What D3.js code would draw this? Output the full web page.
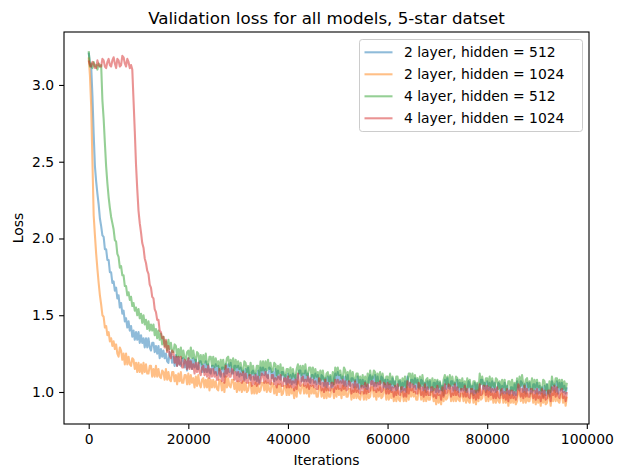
<!DOCTYPE html>
<html>
<head>
<meta charset="utf-8">
<script src="https://cdn.jsdelivr.net/npm/d3@7"></script>
<style>
  body { margin: 0; background: #fff; }
  svg { font-family: "DejaVu Sans", sans-serif; }
</style>
</head>
<body>
<svg id="chart" width="617" height="467"></svg>
<script>
// validation evaluated every 250 iterations, one row = 5000 iterations
var iterations = d3.range(0, 96001, 250);

var loss2x512 = [
  3.21, 3.14, 3.12, 2.93, 2.68, 2.47, 2.37, 2.29, 2.22, 2.13, 2.08, 2.02, 2.01, 1.93, 1.93, 1.86, 1.86, 1.78, 1.78, 1.71,
  1.72, 1.66, 1.68, 1.61, 1.63, 1.55, 1.58, 1.51, 1.53, 1.46, 1.48, 1.42, 1.46, 1.40, 1.43, 1.36, 1.40, 1.34, 1.39, 1.34,
  1.39, 1.32, 1.37, 1.32, 1.35, 1.29, 1.35, 1.29, 1.35, 1.29, 1.27, 1.32, 1.32, 1.26, 1.30, 1.25, 1.30, 1.22, 1.28, 1.23,
  1.27, 1.22, 1.25, 1.20, 1.19, 1.26, 1.25, 1.19, 1.23, 1.17, 1.24, 1.17, 1.23, 1.18, 1.17, 1.22, 1.22, 1.16, 1.20, 1.14,
  1.22, 1.16, 1.21, 1.15, 1.22, 1.16, 1.21, 1.15, 1.15, 1.20, 1.20, 1.13, 1.18, 1.13, 1.20, 1.13, 1.18, 1.13, 1.12, 1.17,
  1.17, 1.12, 1.18, 1.11, 1.17, 1.12, 1.10, 1.16, 1.16, 1.10, 1.18, 1.12, 1.18, 1.13, 1.19, 1.12, 1.12, 1.17, 1.17, 1.11,
  1.17, 1.10, 1.16, 1.11, 1.14, 1.08, 1.15, 1.09, 1.16, 1.10, 1.08, 1.13, 1.14, 1.08, 1.12, 1.07, 1.14, 1.06, 1.16, 1.11,
  1.16, 1.11, 1.15, 1.10, 1.09, 1.16, 1.15, 1.09, 1.13, 1.07, 1.15, 1.08, 1.14, 1.09, 1.08, 1.13, 1.13, 1.07, 1.11, 1.05,
  1.12, 1.06, 1.11, 1.05, 1.12, 1.06, 1.11, 1.05, 1.09, 1.14, 1.14, 1.07, 1.12, 1.07, 1.14, 1.07, 1.12, 1.07, 1.06, 1.11,
  1.11, 1.06, 1.12, 1.05, 1.11, 1.06, 1.05, 1.11, 1.10, 1.04, 1.09, 1.03, 1.10, 1.05, 1.10, 1.03, 1.04, 1.09, 1.12, 1.06,
  1.13, 1.06, 1.11, 1.06, 1.10, 1.04, 1.10, 1.04, 1.11, 1.05, 1.04, 1.09, 1.09, 1.03, 1.08, 1.03, 1.10, 1.02, 1.08, 1.03,
  1.08, 1.03, 1.07, 1.02, 1.02, 1.09, 1.11, 1.05, 1.10, 1.04, 1.11, 1.04, 1.10, 1.05, 1.05, 1.10, 1.09, 1.03, 1.08, 1.02,
  1.08, 1.02, 1.07, 1.01, 1.09, 1.03, 1.07, 1.01, 1.02, 1.07, 1.07, 1.00, 1.06, 1.01, 1.07, 1.00, 1.10, 1.05, 1.03, 1.08,
  1.08, 1.03, 1.09, 1.02, 1.08, 1.03, 1.02, 1.08, 1.07, 1.01, 1.06, 1.00, 1.07, 1.02, 1.07, 1.00, 1.01, 1.06, 1.06, 1.00,
  1.07, 1.00, 1.06, 1.01, 1.04, 0.98, 1.08, 1.02, 1.09, 1.03, 1.02, 1.07, 1.07, 1.01, 1.06, 1.01, 1.08, 1.00, 1.06, 1.01,
  1.06, 1.01, 1.05, 1.00, 1.00, 1.07, 1.05, 0.99, 1.04, 0.98, 1.06, 0.99, 1.05, 1.00, 1.03, 1.08, 1.08, 1.02, 1.06, 1.00,
  1.07, 1.01, 1.06, 1.00, 1.07, 1.01, 1.06, 1.00, 1.01, 1.06, 1.05, 0.98, 1.04, 0.99, 1.06, 0.99, 1.04, 0.99, 0.98, 1.03,
  1.03, 0.98, 1.05, 0.98, 1.07, 1.02, 1.01, 1.07, 1.06, 1.00, 1.05, 0.99, 1.06, 1.01, 1.06, 0.99, 1.00, 1.05, 1.05, 0.99,
  1.06, 0.99, 1.04, 0.99, 1.03, 0.97, 1.04, 0.98, 1.05, 0.99, 0.97, 1.02, 1.07, 1.01, 1.05, 1.00, 1.07, 0.99, 1.06, 1.01,
  1.06, 1.00, 1.04, 0.99, 1.03
];

var loss2x1024 = [
  3.18, 3.06, 2.86, 2.50, 2.15, 2.02, 1.90, 1.80, 1.71, 1.63, 1.57, 1.50, 1.49, 1.42, 1.43, 1.37, 1.39, 1.33, 1.35, 1.30,
  1.33, 1.28, 1.31, 1.25, 1.23, 1.29, 1.27, 1.21, 1.25, 1.18, 1.25, 1.18, 1.23, 1.18, 1.17, 1.22, 1.21, 1.15, 1.19, 1.13,
  1.19, 1.13, 1.18, 1.12, 1.19, 1.13, 1.18, 1.12, 1.12, 1.17, 1.17, 1.10, 1.15, 1.10, 1.17, 1.10, 1.15, 1.10, 1.09, 1.14,
  1.13, 1.08, 1.15, 1.08, 1.13, 1.08, 1.07, 1.13, 1.13, 1.07, 1.11, 1.05, 1.12, 1.07, 1.13, 1.06, 1.06, 1.11, 1.11, 1.05,
  1.12, 1.05, 1.11, 1.06, 1.09, 1.03, 1.10, 1.04, 1.11, 1.05, 1.03, 1.08, 1.09, 1.03, 1.08, 1.03, 1.09, 1.01, 1.08, 1.03,
  1.08, 1.03, 1.07, 1.02, 1.01, 1.08, 1.07, 1.01, 1.06, 1.00, 1.10, 1.03, 1.09, 1.04, 1.03, 1.08, 1.08, 1.02, 1.06, 1.00,
  1.07, 1.01, 1.06, 1.00, 1.07, 1.01, 1.06, 1.00, 1.01, 1.06, 1.06, 0.99, 1.04, 0.99, 1.06, 0.99, 1.05, 1.00, 1.01, 1.06,
  1.06, 1.01, 1.07, 1.00, 1.06, 1.01, 1.00, 1.06, 1.05, 0.99, 1.04, 0.98, 1.05, 1.00, 1.05, 0.98, 0.99, 1.04, 1.04, 0.98,
  1.05, 0.98, 1.04, 0.99, 1.02, 0.96, 1.03, 0.97, 1.07, 1.01, 0.99, 1.04, 1.05, 0.99, 1.04, 0.99, 1.05, 0.97, 1.04, 0.99,
  1.04, 0.99, 1.02, 0.97, 0.97, 1.04, 1.03, 0.97, 1.02, 0.96, 1.03, 0.96, 1.02, 0.97, 0.97, 1.02, 1.02, 0.96, 1.03, 0.97,
  1.04, 0.98, 1.02, 0.96, 1.04, 0.98, 1.03, 0.97, 0.97, 1.02, 1.02, 0.95, 1.01, 0.96, 1.03, 0.96, 1.01, 0.96, 0.95, 1.00,
  1.00, 0.95, 1.02, 0.95, 1.01, 0.96, 0.97, 1.03, 1.03, 0.97, 1.01, 0.95, 1.02, 0.97, 1.03, 0.96, 0.97, 1.02, 1.01, 0.95,
  1.02, 0.95, 1.01, 0.96, 1.00, 0.94, 1.00, 0.94, 1.01, 0.95, 0.94, 0.99, 1.00, 0.94, 0.99, 0.94, 1.03, 0.95, 1.02, 0.97,
  1.02, 0.97, 1.00, 0.95, 0.95, 1.02, 1.01, 0.95, 1.00, 0.94, 1.01, 0.94, 1.00, 0.95, 0.95, 1.00, 1.00, 0.94, 0.98, 0.92,
  0.99, 0.93, 0.98, 0.92, 1.00, 0.94, 1.01, 0.95, 0.96, 1.01, 1.01, 0.94, 0.99, 0.94, 1.01, 0.94, 1.00, 0.95, 0.94, 0.99,
  0.99, 0.94, 1.00, 0.93, 0.99, 0.94, 0.93, 0.99, 0.99, 0.93, 0.98, 0.92, 0.99, 0.94, 1.02, 0.95, 0.96, 1.01, 1.00, 0.94,
  1.01, 0.94, 1.00, 0.95, 0.99, 0.93, 0.99, 0.93, 1.00, 0.94, 0.93, 0.98, 0.99, 0.93, 0.98, 0.93, 0.99, 0.91, 0.98, 0.93,
  0.98, 0.93, 0.97, 0.92, 0.94, 1.01, 1.00, 0.94, 0.99, 0.93, 1.00, 0.93, 0.99, 0.94, 0.94, 0.99, 0.99, 0.93, 0.98, 0.92,
  0.99, 0.93, 0.97, 0.91, 0.99, 0.93, 0.98, 0.92, 0.93, 0.98, 0.98, 0.91, 0.99, 0.94, 1.01, 0.94, 0.99, 0.94, 0.93, 0.98,
  0.99, 0.93, 0.97, 0.91, 0.97
];

var loss4x512 = [
  3.22, 3.12, 3.14, 3.11, 3.15, 3.12, 3.13, 3.10, 3.14, 3.12, 3.13, 2.90, 2.78, 2.62, 2.47, 2.36, 2.27, 2.20, 2.14, 2.10,
  2.06, 1.99, 1.98, 1.90, 1.88, 1.81, 1.82, 1.76, 1.76, 1.69, 1.69, 1.63, 1.65, 1.60, 1.62, 1.56, 1.58, 1.53, 1.55, 1.50,
  1.54, 1.48, 1.51, 1.45, 1.50, 1.44, 1.47, 1.41, 1.46, 1.40, 1.44, 1.40, 1.44, 1.37, 1.41, 1.35, 1.40, 1.34, 1.38, 1.31,
  1.36, 1.30, 1.33, 1.27, 1.34, 1.28, 1.32, 1.26, 1.26, 1.31, 1.30, 1.23, 1.28, 1.23, 1.29, 1.22, 1.27, 1.22, 1.21, 1.26,
  1.27, 1.22, 1.29, 1.22, 1.27, 1.22, 1.20, 1.26, 1.25, 1.19, 1.24, 1.18, 1.24, 1.19, 1.25, 1.18, 1.18, 1.23, 1.23, 1.17,
  1.23, 1.16, 1.22, 1.17, 1.20, 1.14, 1.21, 1.15, 1.21, 1.15, 1.17, 1.22, 1.23, 1.17, 1.21, 1.16, 1.22, 1.14, 1.21, 1.16,
  1.20, 1.15, 1.19, 1.14, 1.13, 1.20, 1.19, 1.13, 1.17, 1.11, 1.19, 1.12, 1.17, 1.12, 1.12, 1.17, 1.17, 1.11, 1.20, 1.14,
  1.20, 1.14, 1.20, 1.14, 1.21, 1.15, 1.19, 1.13, 1.14, 1.19, 1.18, 1.11, 1.17, 1.12, 1.18, 1.11, 1.16, 1.11, 1.10, 1.15,
  1.15, 1.10, 1.16, 1.09, 1.15, 1.10, 1.09, 1.15, 1.18, 1.12, 1.17, 1.11, 1.17, 1.12, 1.18, 1.11, 1.11, 1.16, 1.16, 1.10,
  1.16, 1.09, 1.15, 1.10, 1.13, 1.07, 1.14, 1.08, 1.14, 1.08, 1.07, 1.12, 1.13, 1.07, 1.11, 1.06, 1.13, 1.05, 1.16, 1.11,
  1.16, 1.11, 1.14, 1.09, 1.09, 1.16, 1.14, 1.08, 1.13, 1.07, 1.14, 1.07, 1.13, 1.08, 1.07, 1.12, 1.12, 1.06, 1.10, 1.04,
  1.11, 1.05, 1.10, 1.04, 1.12, 1.06, 1.14, 1.08, 1.09, 1.14, 1.13, 1.06, 1.12, 1.07, 1.13, 1.06, 1.12, 1.07, 1.05, 1.10,
  1.10, 1.05, 1.12, 1.05, 1.10, 1.05, 1.04, 1.10, 1.10, 1.04, 1.08, 1.02, 1.09, 1.04, 1.10, 1.03, 1.07, 1.12, 1.12, 1.06,
  1.12, 1.05, 1.11, 1.06, 1.09, 1.03, 1.10, 1.04, 1.11, 1.05, 1.03, 1.08, 1.09, 1.03, 1.08, 1.03, 1.09, 1.01, 1.08, 1.03,
  1.08, 1.03, 1.07, 1.02, 1.01, 1.08, 1.11, 1.05, 1.10, 1.04, 1.11, 1.04, 1.10, 1.05, 1.05, 1.10, 1.09, 1.03, 1.08, 1.02,
  1.09, 1.03, 1.07, 1.01, 1.09, 1.03, 1.08, 1.02, 1.02, 1.07, 1.07, 1.00, 1.06, 1.01, 1.12, 1.05, 1.10, 1.05, 1.04, 1.09,
  1.09, 1.04, 1.10, 1.03, 1.09, 1.04, 1.03, 1.09, 1.08, 1.02, 1.07, 1.01, 1.08, 1.03, 1.08, 1.01, 1.02, 1.07, 1.07, 1.01,
  1.08, 1.01, 1.06, 1.01, 1.09, 1.03, 1.10, 1.04, 1.11, 1.05, 1.03, 1.08, 1.09, 1.03, 1.07, 1.02, 1.09, 1.01, 1.08, 1.03,
  1.08, 1.03, 1.06, 1.01, 1.01, 1.08, 1.07, 1.01, 1.05, 0.99, 1.07, 1.00, 1.10, 1.05, 1.04, 1.09, 1.09, 1.03, 1.08, 1.02,
  1.08, 1.02, 1.07, 1.01, 1.06
];

var loss4x1024 = [
  3.16, 3.13, 3.12, 3.15, 3.14, 3.11, 3.11, 3.16, 3.13, 3.12, 3.12, 3.17, 3.16, 3.12, 3.11, 3.15, 3.17, 3.13, 3.12, 3.16,
  3.18, 3.14, 3.11, 3.17, 3.16, 3.12, 3.13, 3.19, 3.18, 3.14, 3.12, 3.17, 3.15, 3.11, 3.13, 3.10, 2.90, 2.70, 2.48, 2.32,
  2.18, 2.10, 2.04, 1.97, 1.94, 1.87, 1.84, 1.79, 1.77, 1.70, 1.68, 1.62, 1.61, 1.54, 1.52, 1.47, 1.47, 1.40, 1.39, 1.35,
  1.36, 1.29, 1.34, 1.26, 1.30, 1.24, 1.22, 1.27, 1.26, 1.19, 1.23, 1.17, 1.23, 1.18, 1.23, 1.16, 1.16, 1.21, 1.20, 1.15,
  1.22, 1.15, 1.20, 1.15, 1.18, 1.12, 1.19, 1.13, 1.19, 1.13, 1.11, 1.16, 1.17, 1.11, 1.15, 1.10, 1.17, 1.09, 1.15, 1.10,
  1.15, 1.10, 1.13, 1.08, 1.08, 1.15, 1.13, 1.07, 1.12, 1.06, 1.17, 1.10, 1.15, 1.10, 1.10, 1.15, 1.14, 1.08, 1.13, 1.07,
  1.13, 1.07, 1.12, 1.06, 1.13, 1.07, 1.12, 1.06, 1.06, 1.11, 1.11, 1.04, 1.10, 1.05, 1.11, 1.04, 1.10, 1.05, 1.07, 1.12,
  1.11, 1.06, 1.13, 1.06, 1.11, 1.06, 1.05, 1.11, 1.11, 1.05, 1.09, 1.03, 1.10, 1.05, 1.11, 1.04, 1.04, 1.09, 1.09, 1.03,
  1.10, 1.03, 1.08, 1.03, 1.07, 1.01, 1.08, 1.02, 1.12, 1.06, 1.04, 1.09, 1.10, 1.04, 1.08, 1.03, 1.10, 1.02, 1.09, 1.04,
  1.08, 1.03, 1.07, 1.02, 1.02, 1.09, 1.07, 1.01, 1.06, 1.00, 1.08, 1.01, 1.06, 1.01, 1.01, 1.06, 1.06, 1.00, 1.08, 1.02,
  1.08, 1.02, 1.07, 1.01, 1.08, 1.02, 1.07, 1.01, 1.02, 1.07, 1.06, 0.99, 1.05, 1.00, 1.07, 1.00, 1.05, 1.00, 0.99, 1.04,
  1.04, 0.99, 1.06, 0.99, 1.05, 1.00, 1.01, 1.07, 1.07, 1.01, 1.06, 1.00, 1.06, 1.01, 1.07, 1.00, 1.01, 1.06, 1.05, 0.99,
  1.06, 0.99, 1.05, 1.00, 1.03, 0.97, 1.04, 0.98, 1.05, 0.99, 0.98, 1.03, 1.03, 0.97, 1.02, 0.97, 1.07, 0.99, 1.06, 1.01,
  1.05, 1.00, 1.04, 0.99, 0.99, 1.06, 1.04, 0.98, 1.03, 0.97, 1.05, 0.98, 1.03, 0.98, 0.98, 1.03, 1.03, 0.97, 1.02, 0.96,
  1.04, 0.98, 1.01, 0.95, 1.03, 0.97, 1.05, 0.99, 1.00, 1.05, 1.04, 0.97, 1.03, 0.98, 1.05, 0.98, 1.03, 0.98, 0.97, 1.02,
  1.02, 0.97, 1.04, 0.97, 1.02, 0.97, 0.96, 1.02, 1.02, 0.96, 1.01, 0.95, 1.01, 0.96, 1.05, 0.98, 0.99, 1.04, 1.04, 0.98,
  1.04, 0.97, 1.03, 0.98, 1.02, 0.96, 1.02, 0.96, 1.03, 0.97, 0.96, 1.01, 1.02, 0.96, 1.00, 0.95, 1.02, 0.94, 1.01, 0.96,
  1.01, 0.96, 1.00, 0.95, 0.98, 1.05, 1.03, 0.97, 1.02, 0.96, 1.04, 0.97, 1.02, 0.97, 0.97, 1.02, 1.02, 0.96, 1.01, 0.95,
  1.02, 0.96, 1.00, 0.94, 1.02, 0.96, 1.01, 0.95, 0.96, 1.01, 1.01, 0.94, 1.03, 0.98, 1.04, 0.97, 1.03, 0.98, 0.96, 1.01,
  1.02, 0.96, 1.00, 0.94, 1.00
];

var seriesNames = [
  "2 layer, hidden = 512",
  "2 layer, hidden = 1024",
  "4 layer, hidden = 512",
  "4 layer, hidden = 1024"
];
var seriesValues = [loss2x512, loss2x1024, loss4x512, loss4x1024];
var xTicks = [0, 20000, 40000, 60000, 80000, 100000];
var yTicks = [1.0, 1.5, 2.0, 2.5, 3.0];

var colors = ["#1f77b4", "#ff7f0e", "#2ca02c", "#d62728"];

(function() {
  var svg = d3.select("#chart");
  var left = 64, right = 589, plotTop = 32, plotBottom = 424;

  var x = d3.scaleLinear().domain([-4960, 100440]).range([left, right]);
  var y = d3.scaleLinear().domain([0.7915, 3.345]).range([plotBottom, plotTop]);

  var line = d3.line()
    .x(function(d, i) { return x(iterations[i]); })
    .y(function(d) { return y(d); });

  svg.append("defs").append("clipPath").attr("id", "plotClip")
    .append("rect")
    .attr("x", left).attr("y", plotTop)
    .attr("width", right - left).attr("height", plotBottom - plotTop);

  var plot = svg.append("g").attr("clip-path", "url(#plotClip)");
  seriesValues.forEach(function(vals, k) {
    plot.append("path")
      .datum(vals)
      .attr("d", line)
      .attr("fill", "none")
      .attr("stroke", colors[k])
      .attr("stroke-opacity", 0.5)
      .attr("stroke-width", 2.08)
      .attr("stroke-linejoin", "round");
  });

  // axes
  var xAxis = svg.append("g")
    .attr("transform", "translate(0," + plotBottom + ")")
    .call(d3.axisBottom(x).tickValues(xTicks).tickSize(4.9).tickPadding(5.2)
      .tickFormat(d3.format("d")));

  var yAxis = svg.append("g")
    .attr("transform", "translate(" + left + ",0)")
    .call(d3.axisLeft(y).tickValues(yTicks).tickSize(4.9).tickPadding(4.9)
      .tickFormat(d3.format(".1f")));

  [xAxis, yAxis].forEach(function(g) {
    g.select(".domain").remove();
    g.attr("font-family", null).attr("font-size", null);
    g.selectAll(".tick line").attr("stroke", "#000").attr("stroke-width", 1.1);
    g.selectAll(".tick text").attr("fill", "#000").style("font-size", "13.9px");
  });

  svg.append("rect")
    .attr("x", left).attr("y", plotTop)
    .attr("width", right - left).attr("height", plotBottom - plotTop)
    .attr("fill", "none")
    .attr("stroke", "#000")
    .attr("stroke-width", 1.1);

  // labels
  svg.append("text")
    .attr("x", (left + right) / 2).attr("y", 23.5)
    .attr("text-anchor", "middle")
    .style("font-size", "16.7px")
    .text("Validation loss for all models, 5-star datset");

  svg.append("text")
    .attr("x", (left + right) / 2).attr("y", 465)
    .attr("text-anchor", "middle")
    .style("font-size", "13.9px")
    .text("Iterations");

  svg.append("text")
    .attr("transform", "translate(23," + (plotTop + plotBottom) / 2 + ") rotate(-90)")
    .attr("text-anchor", "middle")
    .style("font-size", "13.9px")
    .text("Loss");

  // legend
  var legend = svg.append("g");
  legend.append("rect")
    .attr("x", 359.5).attr("y", 39.5)
    .attr("width", 223).attr("height", 92)
    .attr("rx", 2.8)
    .attr("fill", "#fff").attr("fill-opacity", 0.8)
    .attr("stroke", "#cccccc").attr("stroke-width", 1);

  seriesNames.forEach(function(name, k) {
    var cy = 52.3 + k * 22;
    legend.append("line")
      .attr("x1", 364.5).attr("x2", 392.5)
      .attr("y1", cy).attr("y2", cy)
      .attr("stroke", colors[k]).attr("stroke-opacity", 0.5)
      .attr("stroke-width", 2.08);
    legend.append("text")
      .attr("x", 404).attr("y", cy)
      .attr("dy", "0.36em")
      .style("font-size", "13.9px")
      .text(name);
  });
})();
</script>
</body>
</html>
